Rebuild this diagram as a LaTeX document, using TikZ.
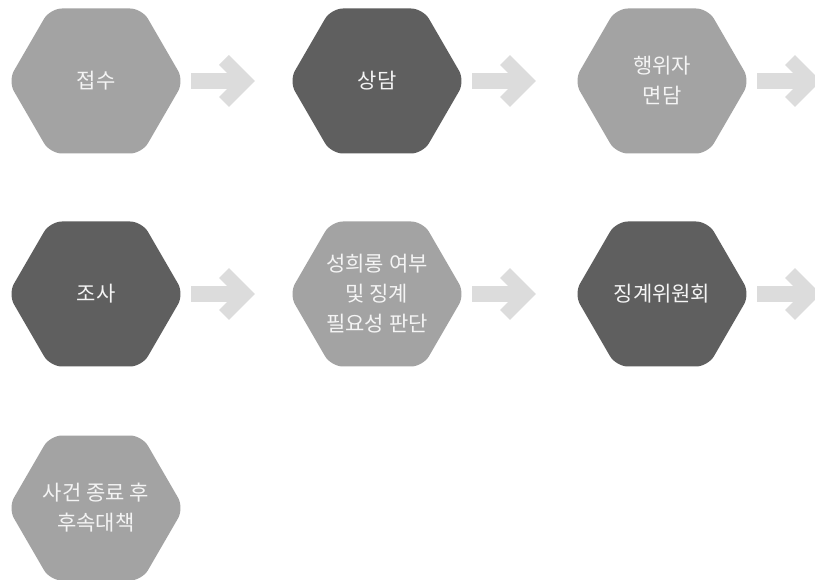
\documentclass[tikz,border=0pt]{standalone}
\usepackage{fontspec}
\newfontfamily\krfont{Noto Sans CJK KR}
\usetikzlibrary{calc}
\definecolor{hexlight}{HTML}{A3A3A3}
\definecolor{hexdark}{HTML}{5F5F5F}
\definecolor{arrowgray}{HTML}{DCDCDC}
\definecolor{txtwhite}{HTML}{F4F4F4}
\tikzset{
  hexlabel/.style={align=center,text=txtwhite,font=\krfont\fontsize{21}{30}\selectfont,inner sep=0pt},
}
\newcommand\hexshape[2]{% color, node name
  \fill[#1,rounded corners=12pt]
    ($(#2.center)+(-88,0)$) -- ($(#2.center)+(-46,72.5)$) -- ($(#2.center)+(46,72.5)$)
    -- ($(#2.center)+(88,0)$) -- ($(#2.center)+(46,-72.5)$) -- ($(#2.center)+(-46,-72.5)$) -- cycle;
}
\newcommand\flowarrow[1]{% from node
  \fill[arrowgray] ($(#1.center)+(95,8)$) rectangle ($(#1.center)+(142,-8)$);
  \draw[arrowgray,line width=14pt,line cap=butt,line join=miter]
    ($(#1.center)+(128,21)$) -- ($(#1.center)+(149,0)$) -- ($(#1.center)+(128,-21)$);
}
\begin{document}
\begin{tikzpicture}[x=1pt,y=-1pt]
\useasboundingbox (0,0) rectangle (815,580);
\clip (0,0) rectangle (815,580);
\fill[white] (0,0) rectangle (815,580);
\path (96,81) coordinate (c1) (377,81) coordinate (c2) (662,81) coordinate (c3)
      (96,294) coordinate (c4) (377,294) coordinate (c5) (662,294) coordinate (c6)
      (96,508) coordinate (c7);
\hexshape{hexlight}{c1}
\hexshape{hexdark}{c2}
\hexshape{hexlight}{c3}
\hexshape{hexdark}{c4}
\hexshape{hexlight}{c5}
\hexshape{hexdark}{c6}
\hexshape{hexlight}{c7}
\node[hexlabel] (n1) at (c1) {접수};
\node[hexlabel] (n2) at (c2) {상담};
\node[hexlabel] (n3) at (c3) {행위자\\면담};
\node[hexlabel] (n4) at (c4) {조사};
\node[hexlabel] (n5) at (c5) {성희롱 여부\\및 징계\\필요성 판단};
\node[hexlabel] (n6) at (c6) {징계위원회};
\node[hexlabel] (n7) at (c7) {사건 종료 후\\후속대책};
\flowarrow{c1}
\flowarrow{c2}
\flowarrow{c3}
\flowarrow{c4}
\flowarrow{c5}
\flowarrow{c6}
\end{tikzpicture}
\end{document}
